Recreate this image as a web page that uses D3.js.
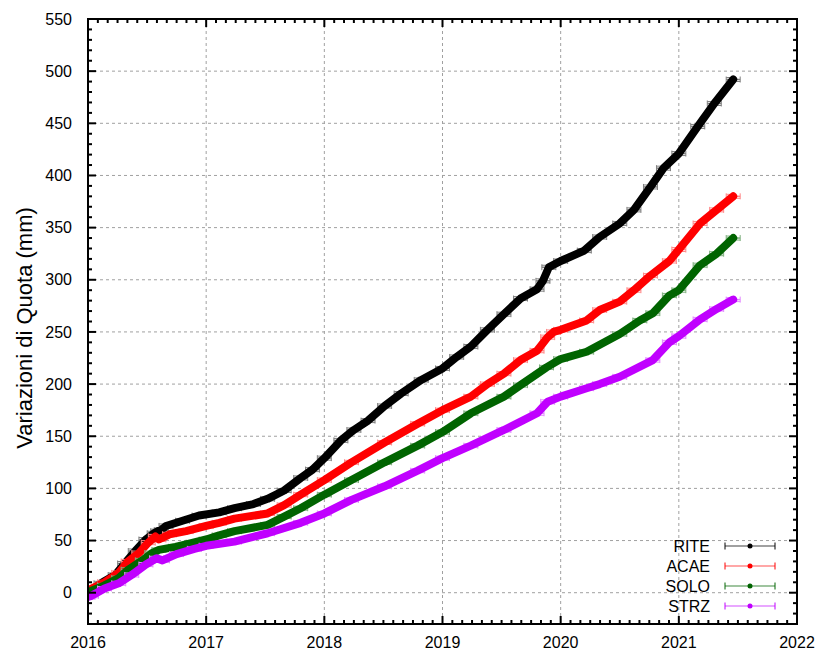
<!DOCTYPE html>
<html><head><meta charset="utf-8">
<script src="https://cdn.jsdelivr.net/npm/d3@7"></script>
<style>body{margin:0;background:#fff}svg{display:block;font-family:"Liberation Sans",Arial,sans-serif}</style>
</head><body><svg id="c" width="826" height="652"></svg>
<script>
const seriesNames = ["RITE","ACAE","SOLO","STRZ"];
const seriesColors = ["#000000","#ff0000","#006400","#c000ff"];
const errColors = ["#808080","#ff8a8a","#7fb07f","#e28aff"];
const xTicks = [2016,2017,2018,2019,2020,2021,2022];
const yTicks = [0,50,100,150,200,250,300,350,400,450,500,550];

// [decimal year, mm]
const RITE = [[2016.00,-2],[2016.03,2],[2016.11,9],[2016.23,17],[2016.31,28],[2016.40,40],[2016.49,51],[2016.56,57],[2016.59,59],[2016.62,60],[2016.66,64],[2016.80,69],[2016.94,74],[2017.11,77],[2017.24,81],[2017.40,85],[2017.52,90],[2017.66,98],[2017.80,110],[2017.90,118],[2018.00,129],[2018.14,146],[2018.25,156],[2018.37,165],[2018.51,179],[2018.65,191],[2018.82,204],[2019.00,215],[2019.12,226],[2019.24,236],[2019.38,252],[2019.52,267],[2019.66,282],[2019.80,291],[2019.85,299],[2019.90,312],[2020.00,318],[2020.20,328],[2020.33,341],[2020.50,354],[2020.62,367],[2020.76,389],[2020.87,407],[2021.00,421],[2021.16,447],[2021.30,469],[2021.46,492]];
const ACAE = [[2016.00,0],[2016.03,4],[2016.14,10],[2016.26,19],[2016.34,30],[2016.43,38],[2016.51,48],[2016.57,54],[2016.60,51],[2016.69,56],[2016.83,59],[2017.00,64],[2017.11,67],[2017.24,71],[2017.52,76],[2017.66,84],[2017.80,94],[2018.00,108],[2018.23,125],[2018.51,144],[2018.79,162],[2019.00,175],[2019.24,188],[2019.38,200],[2019.52,210],[2019.66,223],[2019.80,232],[2019.89,245],[2019.94,250],[2020.00,252],[2020.22,261],[2020.33,271],[2020.50,279],[2020.62,290],[2020.76,304],[2020.92,318],[2021.00,329],[2021.18,354],[2021.32,367],[2021.46,380]];
const SOLO = [[2016.00,-1],[2016.03,2],[2016.14,7],[2016.26,14],[2016.34,22],[2016.46,31],[2016.54,38],[2016.60,41],[2016.74,44],[2016.89,48],[2017.00,51],[2017.11,55],[2017.24,59],[2017.52,65],[2017.66,73],[2017.80,81],[2018.00,94],[2018.23,108],[2018.51,125],[2018.79,141],[2019.00,154],[2019.24,172],[2019.52,188],[2019.66,199],[2019.88,216],[2020.00,224],[2020.22,231],[2020.50,248],[2020.67,261],[2020.78,268],[2020.92,285],[2021.00,290],[2021.18,314],[2021.32,325],[2021.46,340]];
const STRZ = [[2016.00,-4],[2016.03,-3],[2016.14,4],[2016.26,9],[2016.37,17],[2016.49,27],[2016.58,33],[2016.63,31],[2016.75,37],[2016.90,42],[2017.00,45],[2017.24,49],[2017.52,57],[2017.80,67],[2018.00,76],[2018.23,89],[2018.51,102],[2018.79,117],[2019.00,129],[2019.24,141],[2019.52,156],[2019.80,172],[2019.89,183],[2020.00,188],[2020.22,196],[2020.33,200],[2020.50,207],[2020.78,223],[2020.92,240],[2021.00,246],[2021.18,262],[2021.32,272],[2021.46,281]];
const allSeries = [RITE, ACAE, SOLO, STRZ];

const svg = d3.select("#c");
const L = 88, R = 797, T = 19, B = 624;
const x = d3.scaleLinear().domain([2016, 2022]).range([L, R]);
const y = d3.scaleLinear().domain([-30, 550]).range([B, T]);

// grid
const grid = svg.append("g").attr("stroke","#a0a0a0").attr("stroke-width",1).attr("stroke-dasharray","3,3");
xTicks.slice(1,-1).forEach(t => grid.append("line").attr("x1",x(t)).attr("x2",x(t)).attr("y1",T).attr("y2",B));
yTicks.slice(0,-1).forEach(t => grid.append("line").attr("x1",L).attr("x2",R).attr("y1",y(t)).attr("y2",y(t)));

// series
svg.append("defs").append("clipPath").attr("id","pc").append("rect").attr("x",L).attr("y",T).attr("width",R-L).attr("height",B-T);
const plot = svg.append("g").attr("clip-path","url(#pc)");
const line = d3.line().x(d => x(d[0])).y(d => y(d[1]));
allSeries.forEach((data, i) => {
  const g = plot.append("g");
  const eb = g.selectAll("g.e").data(data).enter().append("g");
  eb.append("line").attr("x1", d => x(d[0]) - 7).attr("x2", d => x(d[0]) + 7)
    .attr("y1", d => y(d[1])).attr("y2", d => y(d[1])).attr("stroke", errColors[i]).attr("stroke-width",1.5);
  [-7, 7].forEach(o => eb.append("line").attr("x1", d => x(d[0]) + o).attr("x2", d => x(d[0]) + o)
    .attr("y1", d => y(d[1]) - 3).attr("y2", d => y(d[1]) + 3).attr("stroke", errColors[i]).attr("stroke-width",1));
  g.append("path").datum(data).attr("d", line).attr("fill","none")
    .attr("stroke", seriesColors[i]).attr("stroke-width", 8).attr("stroke-linejoin","round").attr("stroke-linecap","round");
  eb.append("line").attr("x1", d => x(d[0]) - 7).attr("x2", d => x(d[0]) - 3)
    .attr("y1", d => y(d[1]) - 2).attr("y2", d => y(d[1]) - 2).attr("stroke", errColors[i]).attr("stroke-width",1);
  eb.append("line").attr("x1", d => x(d[0]) + 3).attr("x2", d => x(d[0]) + 7)
    .attr("y1", d => y(d[1]) + 2).attr("y2", d => y(d[1]) + 2).attr("stroke", errColors[i]).attr("stroke-width",1);
});

// frame and ticks
const ax = svg.append("g").attr("stroke","#000");
ax.append("rect").attr("x",L).attr("y",T).attr("width",R-L).attr("height",B-T).attr("fill","none").attr("stroke-width",2);
d3.range(-30, 551, 10).forEach(v => {
  const len = v % 50 === 0 ? 8 : 4;
  ax.append("line").attr("x1",L).attr("x2",L+len).attr("y1",y(v)).attr("y2",y(v)).attr("stroke-width",2);
  ax.append("line").attr("x1",R).attr("x2",R-len).attr("y1",y(v)).attr("y2",y(v)).attr("stroke-width",2);
});
d3.range(0, 73).forEach(k => {
  const v = 2016 + k/12;
  const len = k % 12 === 0 ? 8 : 4;
  ax.append("line").attr("x1",x(v)).attr("x2",x(v)).attr("y1",B).attr("y2",B-len).attr("stroke-width",2);
  ax.append("line").attr("x1",x(v)).attr("x2",x(v)).attr("y1",T).attr("y2",T+len).attr("stroke-width",2);
});

// tick labels
const tl = svg.append("g").attr("font-size",16).attr("fill","#000");
yTicks.forEach(t => tl.append("text").attr("x",72).attr("y",y(t)).attr("dy","0.35em").attr("text-anchor","end").text(t));
xTicks.forEach(t => tl.append("text").attr("x",x(t)).attr("y",648).attr("text-anchor","middle").text(t));

svg.append("text").attr("transform",`translate(24,328) rotate(-90)`).attr("text-anchor","middle")
  .attr("dy","0.35em").attr("font-size",22).attr("fill","#000").text("Variazioni di Quota (mm)");

// legend
seriesNames.forEach((n, i) => {
  const ly = 546 + i*20;
  svg.append("text").attr("x",710).attr("y",ly).attr("dy","0.35em").attr("text-anchor","end").attr("font-size",16).text(n);
  svg.append("line").attr("x1",725).attr("x2",775).attr("y1",ly).attr("y2",ly).attr("stroke",errColors[i]).attr("stroke-width",1.5);
  [725,775].forEach(cx => svg.append("line").attr("x1",cx).attr("x2",cx).attr("y1",ly-3.5).attr("y2",ly+3.5).attr("stroke",seriesColors[i]).attr("stroke-width",1));
  svg.append("circle").attr("cx",750).attr("cy",ly).attr("r",2.5).attr("fill",seriesColors[i]);
});
</script></body></html>
